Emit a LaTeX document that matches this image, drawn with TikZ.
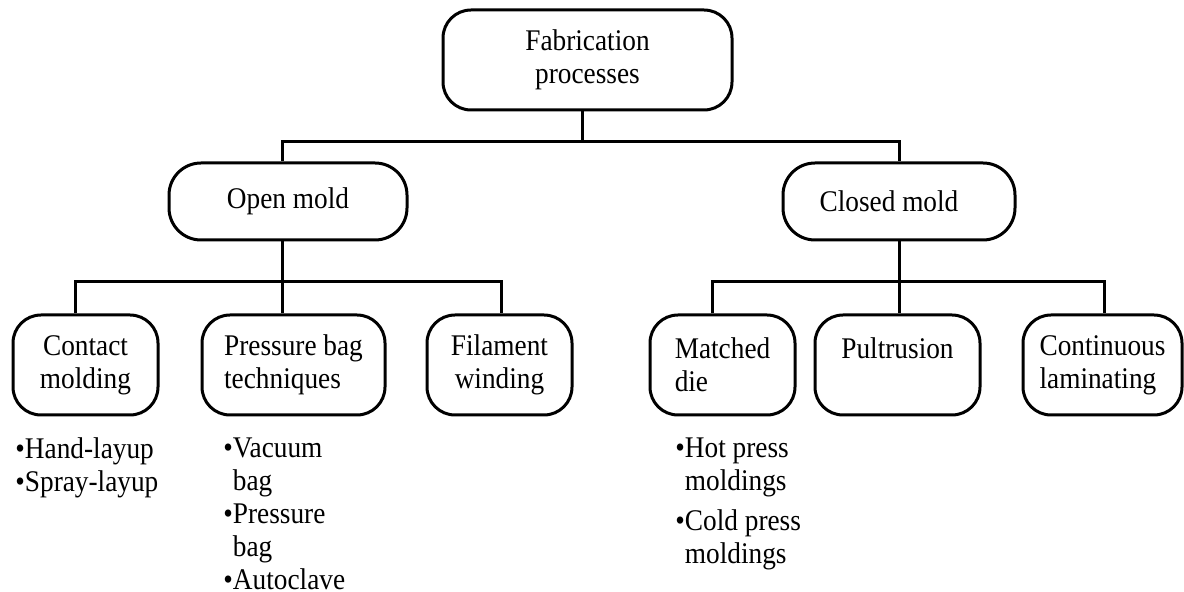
\documentclass[tikz,border=0pt]{standalone}
\usepackage{fontspec}
\setmainfont{Liberation Serif}[FakeStretch=0.91]
\usetikzlibrary{calc}
\begin{document}
\begin{tikzpicture}[x=0.5pt,y=-0.5pt,
  txt/.style={font=\fontsize{15}{16.5}\selectfont},
  box/.style={txt, draw=black, line width=1.5pt, rounded corners=14pt, inner sep=0pt},
  lowbox/.style={box, minimum height=50pt},
  wire/.style={line width=1.5pt, line join=miter},
  list/.style={txt, anchor=north west, inner sep=0pt, align=left}]
\useasboundingbox (0,0) rectangle (1184,592);

% boxes
\node[box, minimum width=144.5pt, minimum height=50pt, align=center] (top) at (587.5,60) {Fabrication\\processes};
\node[box, minimum width=119pt, minimum height=38.5pt, rounded corners=16pt] (open) at (288,201.5) {Open mold};
\node[box, minimum width=116pt, minimum height=38.5pt, rounded corners=16pt] (closed) at (899,201.5) {\hspace*{-10pt}Closed mold};

\node[lowbox, minimum width=72.5pt, align=center] (contact) at (85.5,365) {Contact\\molding};
\node[lowbox, minimum width=91.5pt, align=left] (pressure) at (293.5,365) {Pressure bag\\techniques};
\node[lowbox, minimum width=72.5pt, align=center] (filament) at (499.5,365) {Filament\\winding};
\node[lowbox, minimum width=72.5pt, align=left] (matched) at (722.5,365) {Matched\\die};
\node[lowbox, minimum width=82.5pt, align=left] (pultrusion) at (897.5,365) {Pultrusion\\\mbox{}};
\node[lowbox, minimum width=79.5pt, align=left] (continuous) at (1102.5,365) {Continuous\\laminating};

% bullet lists under the boxes
\node[list] (contactlist) at (15,437) {\textbullet Hand-layup\\\textbullet Spray-layup};
\node[list] (pressurelist) at (223,437) {\textbullet Vacuum\\\phantom{\textbullet}bag\\\textbullet Pressure\\\phantom{\textbullet}bag\\\textbullet Autoclave};
\node[list] (matchedlist) at (675,437) {\textbullet Hot press\\\phantom{\textbullet}moldings\\[3.5pt]\textbullet Cold press\\\phantom{\textbullet}moldings};

% junctions of the connector buses
\coordinate (jTop) at (582,142);
\coordinate (jOpen) at (282,142);
\coordinate (jClosed) at (899,142);
\coordinate (jOL) at (75,282);
\coordinate (jOM) at (282,282);
\coordinate (jOR) at (501,282);
\coordinate (jCL) at (712,282);
\coordinate (jCM) at (899,282);
\coordinate (jCR) at (1104,282);

% first level
\draw[wire] (top.south -| jTop) -- (jTop);
\draw[wire] (jOpen |- open.north) -- (jOpen) -- (jClosed) -- (jClosed |- closed.north);

% open mold branch
\draw[wire] (open.south -| jOM) -- (jOM);
\draw[wire] (jOL |- contact.north) -- (jOL) -- (jOR) -- (jOR |- filament.north);
\draw[wire] (jOM) -- (jOM |- pressure.north);

% closed mold branch
\draw[wire] (closed.south -| jCM) -- (jCM);
\draw[wire] (jCL |- matched.north) -- (jCL) -- (jCR) -- (jCR |- continuous.north);
\draw[wire] (jCM) -- (jCM |- pultrusion.north);
\end{tikzpicture}
\end{document}
